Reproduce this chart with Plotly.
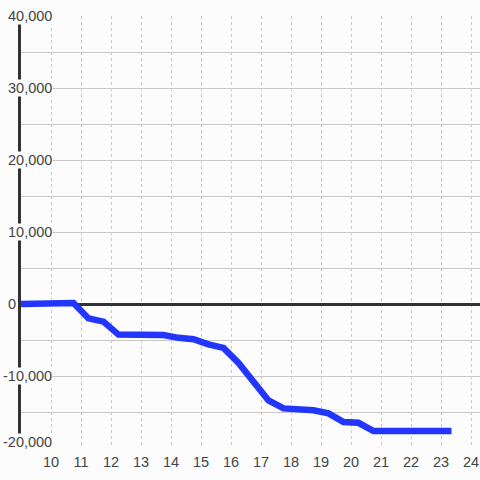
import plotly.graph_objects as go

# Data
x_vals = [9.0, 9.75, 10.25, 10.75, 11.25, 11.75, 12.25, 12.75, 13.25, 13.75,
          14.25, 14.75, 15.25, 15.75, 16.25, 16.75, 17.25, 17.75, 18.25, 18.75,
          19.25, 19.75, 20.25, 20.75, 21.25, 21.75, 22.25, 22.75, 23.35]
y_vals = [0, 30, 80, 150, -2000, -2450, -4250, -4300, -4300, -4300,
          -4700, -4900, -5600, -6100, -8200, -10800, -13400, -14500, -14700, -14750,
          -15200, -16400, -16500, -17650, -17650, -17650, -17650, -17650, -17650]

x_ticks = list(range(10, 25))
y_label_vals = [-20000, -10000, 0, 10000, 20000, 30000, 40000]

BG = "#fbfcfb"
TXT = "#444444"
GRID = "#c8c8c8"
DARK = "#333333"

fig = go.Figure()
fig.add_trace(go.Scatter(
    x=x_vals, y=y_vals, mode="lines",
    line=dict(color="#2236ff", width=6.5),
    hoverinfo="skip", showlegend=False,
))

fig.update_layout(
    width=480, height=480,
    margin=dict(l=21, r=0, t=16, b=32),
    paper_bgcolor=BG, plot_bgcolor=BG,
    font=dict(family="Liberation Sans, Arial, sans-serif", size=14.5, color=TXT),
    showlegend=False,
)
fig.update_xaxes(
    range=[9, 24.3],
    tickvals=x_ticks, ticktext=[str(v) for v in x_ticks],
    showgrid=True, gridcolor=GRID, gridwidth=1, griddash="3px,3px",
    showline=False, zeroline=False, ticks="",
    ticklabelstandoff=3,
    tickfont=dict(size=14.5, color=TXT),
)
fig.update_yaxes(
    range=[-20000, 40000],
    dtick=5000, tick0=0,
    showticklabels=False,
    showgrid=True, gridcolor=GRID, gridwidth=1,
    zeroline=True, zerolinecolor=DARK, zerolinewidth=3,
    showline=True, linecolor=DARK, linewidth=3,
    ticks="",
)

for v in y_label_vals:
    if v == 0:
        xpos = -0.0087
    else:
        xpos = 0.0697
    fig.add_annotation(
        x=xpos, xref="paper", y=v, yref="y",
        text=f"{v:,}", showarrow=False,
        xanchor="right", yanchor="middle",
        yshift=6 if v == min(y_label_vals) else 0,
        bgcolor=BG, borderpad=0,
        font=dict(size=14.5, color=TXT),
    )

fig.write_html("out.html", config={"displayModeBar": False},
               post_script="document.body.style.margin='0';")
